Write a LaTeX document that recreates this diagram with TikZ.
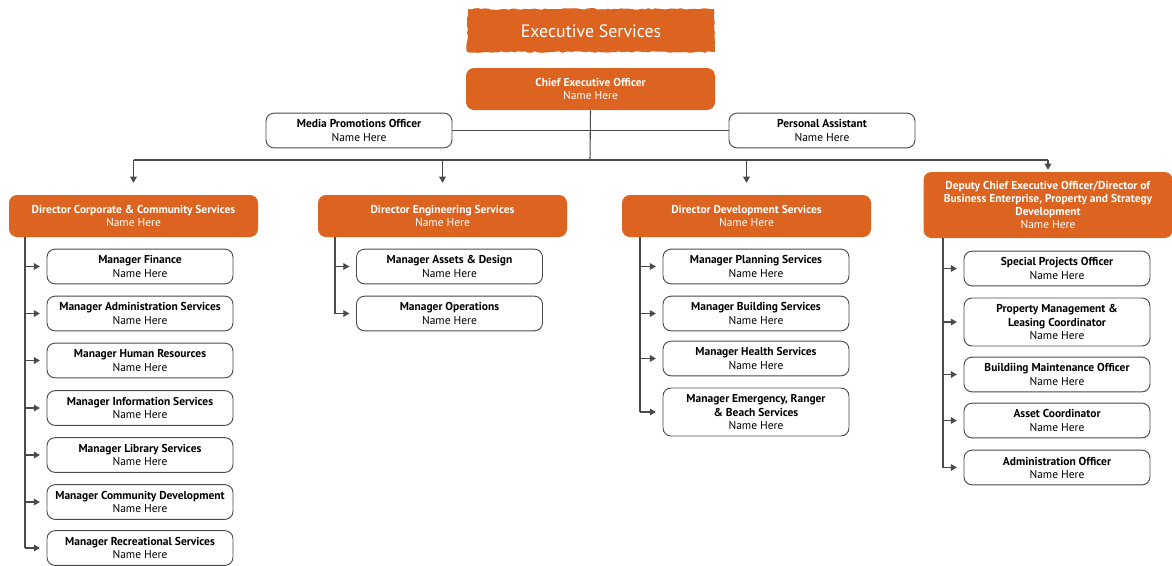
\documentclass[tikz,border=0pt]{standalone}
\usepackage{fontspec}
\setmainfont{PT Sans}
\usetikzlibrary{arrows.meta,decorations.pathmorphing}
\definecolor{orgorange}{HTML}{DC6420}
\definecolor{linegray}{HTML}{4A4A4A}
\begin{document}
\begin{tikzpicture}[x=0.75pt,y=-0.75pt,
  orgbox/.style={rounded corners=6pt, fill=orgorange, text=white, align=center,
    inner sep=1pt, font=\fontsize{8.6}{9.8}\selectfont, minimum width=186.75pt, minimum height=31.5pt},
  staffbox/.style={rounded corners=6pt, draw=linegray, line width=0.7pt, fill=white, text=black,
    align=center, inner sep=1pt, font=\fontsize{8.6}{9.8}\selectfont, minimum width=139.5pt, minimum height=26pt},
  link/.style={draw=linegray, line width=0.8pt},
  arr/.style={link, -{Triangle[length=4.5pt,width=5pt]}},
  sidearr/.style={arr, shorten >=5pt},
]
\useasboundingbox (0,0) rectangle (1172,565);

% title banner with ragged edges
\fill[orgorange, decorate, decoration={random steps, segment length=2.5pt, amplitude=0.6pt}]
  (468,9) -- (714,9) -- (715,52) -- (467,52) -- cycle;
\node[text=white, font=\fontsize{13.4}{16}\selectfont] (title) at (591,31.5) {Executive Services};

% top level
\node[orgbox] (ceo) at (590.5,89) {\textbf{Chief Executive Officer}\\Name Here};
\node[staffbox] (mpo) at (359,130.5) {\textbf{Media Promotions Officer}\\Name Here};
\node[staffbox] (pa) at (822,130.5) {\textbf{Personal Assistant}\\Name Here};

% directors
\node[orgbox] (d1) at (133.5,216) {\textbf{Director Corporate \& Community Services}\\Name Here};
\node[orgbox] (d2) at (442.5,216) {\textbf{Director Engineering Services}\\Name Here};
\node[orgbox] (d3) at (746.5,216) {\textbf{Director Development Services}\\Name Here};
\node[orgbox, minimum height=49.5pt] (d4) at (1048,205) {\textbf{Deputy Chief Executive Officer/Director of}\\\textbf{Business Enterprise, Property and Strategy}\\\textbf{Development}\\Name Here};

% connectors from the chief executive
\coordinate (bus) at (590,160);
\draw[link] (ceo.south) -- (bus);
\draw[link] (mpo.east) -- (pa.west);
\draw[link] (d1.north |- bus) -- (d4.north |- bus);
\draw[arr, shorten >=9pt] (d1.north |- bus) -- (d1.north);
\draw[arr, shorten >=9pt] (d2.north |- bus) -- (d2.north);
\draw[arr, shorten >=9pt] (d3.north |- bus) -- (d3.north);
\draw[arr, shorten >=1.5pt] (d4.north |- bus) -- (d4.north);

% corporate & community services
\node[staffbox] (m11) at (140,266.5) {\textbf{Manager Finance}\\Name Here};
\node[staffbox] (m12) at (140,313.5) {\textbf{Manager Administration Services}\\Name Here};
\node[staffbox] (m13) at (140,360.5) {\textbf{Manager Human Resources}\\Name Here};
\node[staffbox] (m14) at (140,408) {\textbf{Manager Information Services}\\Name Here};
\node[staffbox] (m15) at (140,455) {\textbf{Manager Library Services}\\Name Here};
\node[staffbox] (m16) at (140,502) {\textbf{Manager Community Development}\\Name Here};
\node[staffbox] (m17) at (140,548) {\textbf{Manager Recreational Services}\\Name Here};
\coordinate (s1) at (25,0);
\draw[link] (s1 |- d1.south) -- (s1 |- m17.west);
\foreach \m in {m11,m12,m13,m14,m15,m16,m17}
  \draw[sidearr] (s1 |- \m.west) -- (\m.west);

% engineering services
\node[staffbox] (m21) at (449.5,266.5) {\textbf{Manager Assets \& Design}\\Name Here};
\node[staffbox] (m22) at (449.5,313.5) {\textbf{Manager Operations}\\Name Here};
\coordinate (s2) at (335,0);
\draw[link] (s2 |- d2.south) -- (s2 |- m22.west);
\foreach \m in {m21,m22}
  \draw[sidearr] (s2 |- \m.west) -- (\m.west);

% development services
\node[staffbox] (m31) at (756,266.5) {\textbf{Manager Planning Services}\\Name Here};
\node[staffbox] (m32) at (756,313.5) {\textbf{Manager Building Services}\\Name Here};
\node[staffbox] (m33) at (756,358.5) {\textbf{Manager Health Services}\\Name Here};
\node[staffbox, minimum height=36pt] (m34) at (756,412) {\textbf{Manager Emergency, Ranger}\\\textbf{\& Beach Services}\\Name Here};
\coordinate (s3) at (640,0);
\draw[link] (s3 |- d3.south) -- (s3 |- m34.west);
\foreach \m in {m31,m32,m33,m34}
  \draw[sidearr] (s3 |- \m.west) -- (\m.west);

% business enterprise, property and strategy
\node[staffbox] (m41) at (1057,268.5) {\textbf{Special Projects Officer}\\Name Here};
\node[staffbox, minimum height=36pt] (m42) at (1057,322) {\textbf{Property Management \&}\\\textbf{Leasing Coordinator}\\Name Here};
\node[staffbox] (m43) at (1057,374.5) {\textbf{Buildiing Maintenance Officer}\\Name Here};
\node[staffbox] (m44) at (1057,420.5) {\textbf{Asset Coordinator}\\Name Here};
\node[staffbox] (m45) at (1057,467.5) {\textbf{Administration Officer}\\Name Here};
\coordinate (s4) at (943,0);
\draw[link] (s4 |- d4.south) -- (s4 |- m45.west);
\foreach \m in {m41,m42,m43,m44,m45}
  \draw[sidearr] (s4 |- \m.west) -- (\m.west);
\end{tikzpicture}
\end{document}
